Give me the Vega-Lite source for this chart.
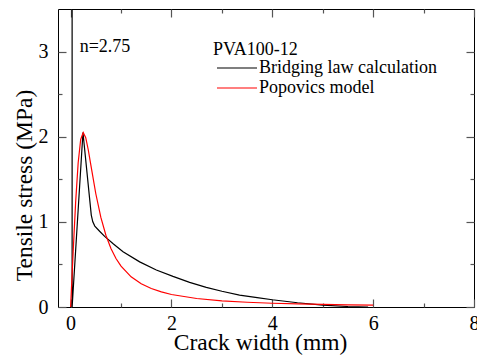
{
  "$schema": "https://vega.github.io/schema/vega-lite/v6.json",
  "width": 416,
  "height": 298,
  "autosize": "none",
  "padding": {"left": 58, "top": 9, "right": 3, "bottom": 54},
  "background": "white",
  "config": {
    "view": {"stroke": "black", "strokeWidth": 1},
    "font": "Liberation Serif",
    "axis": {
      "domainOpacity": 0,
      "tickColor": "#555555",
      "tickWidth": 1.2,
      "labelFont": "Liberation Serif",
      "labelFontSize": 20,
      "labelColor": "black",
      "titleFont": "Liberation Serif",
      "titleFontSize": 23.5,
      "titleFontWeight": "normal",
      "titleColor": "black",
      "format": "~g"
    }
  },
  "datasets": {
    "curves": [
      {"series": "Bridging law calculation", "i": 0, "w": 0.03, "s": 3.5},
      {"series": "Bridging law calculation", "i": 1, "w": 0.03, "s": 0.0},
      {"series": "Bridging law calculation", "i": 2, "w": 0.245, "s": 2.05},
      {"series": "Bridging law calculation", "i": 3, "w": 0.41, "s": 1.08},
      {"series": "Bridging law calculation", "i": 4, "w": 0.44, "s": 1.0},
      {"series": "Bridging law calculation", "i": 5, "w": 0.48, "s": 0.95},
      {"series": "Bridging law calculation", "i": 6, "w": 0.575, "s": 0.89},
      {"series": "Bridging law calculation", "i": 7, "w": 0.675, "s": 0.83},
      {"series": "Bridging law calculation", "i": 8, "w": 0.85, "s": 0.74},
      {"series": "Bridging law calculation", "i": 9, "w": 1.04, "s": 0.65},
      {"series": "Bridging law calculation", "i": 10, "w": 1.37, "s": 0.53},
      {"series": "Bridging law calculation", "i": 11, "w": 1.7, "s": 0.435},
      {"series": "Bridging law calculation", "i": 12, "w": 2.03, "s": 0.36},
      {"series": "Bridging law calculation", "i": 13, "w": 2.36, "s": 0.29},
      {"series": "Bridging law calculation", "i": 14, "w": 2.69, "s": 0.23},
      {"series": "Bridging law calculation", "i": 15, "w": 3.0, "s": 0.185},
      {"series": "Bridging law calculation", "i": 16, "w": 3.35, "s": 0.14},
      {"series": "Bridging law calculation", "i": 17, "w": 3.7, "s": 0.11},
      {"series": "Bridging law calculation", "i": 18, "w": 4.0, "s": 0.085},
      {"series": "Bridging law calculation", "i": 19, "w": 4.5, "s": 0.05},
      {"series": "Bridging law calculation", "i": 20, "w": 5.0, "s": 0.022},
      {"series": "Bridging law calculation", "i": 21, "w": 5.5, "s": 0.006},
      {"series": "Bridging law calculation", "i": 22, "w": 5.9, "s": 0.0},
      {"series": "Popovics model", "i": 0, "w": 0.0, "s": 0.0},
      {"series": "Popovics model", "i": 1, "w": 0.02, "s": 0.258},
      {"series": "Popovics model", "i": 2, "w": 0.05, "s": 0.64},
      {"series": "Popovics model", "i": 3, "w": 0.1, "s": 1.232},
      {"series": "Popovics model", "i": 4, "w": 0.15, "s": 1.695},
      {"series": "Popovics model", "i": 5, "w": 0.2, "s": 1.968},
      {"series": "Popovics model", "i": 6, "w": 0.25, "s": 2.05},
      {"series": "Popovics model", "i": 7, "w": 0.3, "s": 1.989},
      {"series": "Popovics model", "i": 8, "w": 0.35, "s": 1.847},
      {"series": "Popovics model", "i": 9, "w": 0.4, "s": 1.673},
      {"series": "Popovics model", "i": 10, "w": 0.5, "s": 1.33},
      {"series": "Popovics model", "i": 11, "w": 0.6, "s": 1.052},
      {"series": "Popovics model", "i": 12, "w": 0.7, "s": 0.843},
      {"series": "Popovics model", "i": 13, "w": 0.8, "s": 0.687},
      {"series": "Popovics model", "i": 14, "w": 0.9, "s": 0.57},
      {"series": "Popovics model", "i": 15, "w": 1.0, "s": 0.48},
      {"series": "Popovics model", "i": 16, "w": 1.2, "s": 0.354},
      {"series": "Popovics model", "i": 17, "w": 1.4, "s": 0.272},
      {"series": "Popovics model", "i": 18, "w": 1.6, "s": 0.217},
      {"series": "Popovics model", "i": 19, "w": 1.8, "s": 0.177},
      {"series": "Popovics model", "i": 20, "w": 2.0, "s": 0.147},
      {"series": "Popovics model", "i": 21, "w": 2.5, "s": 0.1},
      {"series": "Popovics model", "i": 22, "w": 3.0, "s": 0.073},
      {"series": "Popovics model", "i": 23, "w": 3.5, "s": 0.056},
      {"series": "Popovics model", "i": 24, "w": 4.0, "s": 0.044},
      {"series": "Popovics model", "i": 25, "w": 4.5, "s": 0.036},
      {"series": "Popovics model", "i": 26, "w": 5.0, "s": 0.03},
      {"series": "Popovics model", "i": 27, "w": 5.5, "s": 0.025},
      {"series": "Popovics model", "i": 28, "w": 6.0, "s": 0.022}
    ],
    "note": [{"label": "n=2.75"}]
  },
  "resolve": {"axis": {"x": "independent", "y": "independent"}},
  "layer": [
    {
      "data": {"name": "curves"},
      "transform": [{"filter": "datum.series === 'Bridging law calculation'"}],
      "mark": {"type": "line", "strokeWidth": 1.2, "clip": true},
      "encoding": {
        "x": {
          "field": "w",
          "type": "quantitative",
          "scale": {"domain": [-0.25, 8], "nice": false, "zero": false},
          "axis": {
            "orient": "bottom",
            "title": "Crack width (mm)",
            "values": [0, 2, 4, 6, 8],
            "offset": -8,
            "tickSize": 8,
            "labelPadding": 6,
            "labelFlush": false,
            "labelOverlap": false,
            "grid": false,
            "titlePadding": -3,
            "titleX": 202
          }
        },
        "y": {
          "field": "s",
          "type": "quantitative",
          "scale": {"domain": [0, 3.5], "nice": false},
          "axis": {
            "orient": "left",
            "title": "Tensile stress (MPa)",
            "values": [0, 1, 2, 3],
            "offset": -8,
            "tickSize": 8,
            "labelPadding": 10,
            "labelFlush": false,
            "labelOverlap": false,
            "grid": false,
            "titlePadding": 2,
            "titleY": 176
          }
        },
        "color": {
          "field": "series",
          "type": "nominal",
          "scale": {"domain": ["Bridging law calculation", "Popovics model"], "range": ["#000000", "#ff0000"]},
          "legend": {
            "title": "PVA100-12",
            "orient": "none",
            "legendX": 155,
            "legendY": 32,
            "titleFont": "Liberation Serif",
            "titleFontSize": 18,
            "titleFontWeight": "normal",
            "titleColor": "black",
            "titlePadding": 0,
            "labelFont": "Liberation Serif",
            "labelFontSize": 18,
            "labelColor": "black",
            "labelLimit": 0,
            "symbolType": "M-1,0H7",
            "symbolSize": 100,
            "symbolStrokeWidth": 1.2,
            "rowPadding": 2,
            "labelOffset": 28
          }
        },
        "order": {"field": "i", "type": "quantitative"}
      }
    },
    {
      "data": {"name": "curves"},
      "transform": [{"filter": "datum.series === 'Popovics model'"}],
      "mark": {"type": "line", "strokeWidth": 1.2, "clip": true},
      "encoding": {
        "x": {
          "field": "w",
          "type": "quantitative",
          "axis": {"orient": "bottom", "title": null, "labels": false, "grid": false, "values": [1, 3, 5, 7], "offset": -4, "tickSize": 4}
        },
        "y": {
          "field": "s",
          "type": "quantitative",
          "axis": {"orient": "left", "title": null, "labels": false, "grid": false, "values": [0.5, 1.5, 2.5], "offset": -4, "tickSize": 4}
        },
        "color": {"field": "series", "type": "nominal"},
        "order": {"field": "i", "type": "quantitative"}
      }
    },
    {
      "data": {"name": "note"},
      "mark": {"type": "text", "align": "left", "baseline": "alphabetic", "font": "Liberation Serif", "fontSize": 18, "color": "black"},
      "encoding": {
        "x": {
          "datum": 0.18,
          "type": "quantitative",
          "axis": {"orient": "top", "title": null, "labels": false, "grid": false, "values": [0, 2, 4, 6, 8], "offset": -8, "tickSize": 8}
        },
        "y": {
          "datum": 3.0,
          "type": "quantitative",
          "axis": {"orient": "right", "title": null, "labels": false, "grid": false, "values": [0, 1, 2, 3], "offset": -8, "tickSize": 8}
        },
        "text": {"field": "label"}
      }
    },
    {
      "mark": {"type": "rule", "color": "black", "strokeWidth": 1},
      "encoding": {
        "x": {
          "datum": -0.25,
          "type": "quantitative",
          "axis": {"orient": "top", "title": null, "labels": false, "grid": false, "values": [1, 3, 5, 7], "offset": -4, "tickSize": 4}
        },
        "x2": {"datum": 8},
        "y": {
          "datum": 0,
          "type": "quantitative",
          "axis": {"orient": "right", "title": null, "labels": false, "grid": false, "values": [0.5, 1.5, 2.5], "offset": -4, "tickSize": 4}
        }
      }
    }
  ]
}
